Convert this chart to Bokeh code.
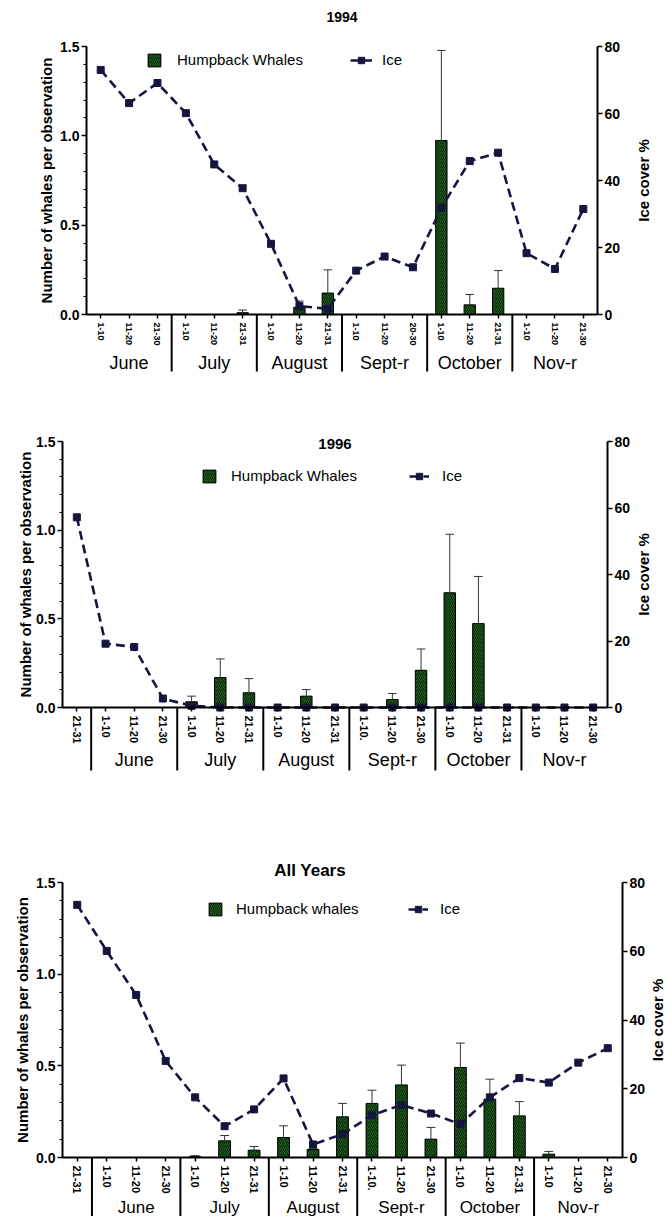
import math
from bokeh.plotting import figure
from bokeh.models import (ColumnDataSource, Range1d, LinearAxis, FixedTicker, PrintfTickFormatter,
                          Legend, LegendItem, Label, LabelSet)
from bokeh.layouts import column
from bokeh.embed import file_html
from bokeh.resources import INLINE
from bokeh.core.properties import value

FONT = "Liberation Sans"
GREEN = "#1f5c1f"
HATCH = "#0a280a"
NAVY = "#15153f"
W = 670

# ---------------- 1994 ----------------
periods_1994 = ["1-10", "11-20", "21-30", "1-10", "11-20", "21-31", "1-10", "11-20", "21-31",
                "1-10", "11-20", "20-30", "1-10", "11-20", "21-31", "1-10", "11-20", "21-30"]
month_of_1994 = ["June"] * 3 + ["July"] * 3 + ["August"] * 3 + ["Sept-r"] * 3 + ["October"] * 3 + ["Nov-r"] * 3
whales_1994 = [0, 0, 0, 0, 0, 0.01, 0, 0.04, 0.12, 0, 0, 0, 0.974, 0.054, 0.147, 0, 0, 0]
whales_upper_1994 = [0, 0, 0, 0, 0, 0.025, 0, 0.075, 0.25, 0, 0, 0, 1.478, 0.112, 0.246, 0, 0, 0]
ice_1994 = [73.0, 63.1, 69.1, 60.1, 44.8, 37.7, 21.1, 2.5, 1.7, 13.1, 17.3, 14.1,
            31.8, 45.8, 48.3, 18.3, 13.6, 31.5]

# ---------------- 1996 ----------------
periods_1996 = ["21-31", "1-10", "11-20", "21-30", "1-10", "11-20", "21-31", "1-10", "11-20", "21-31",
                "1-10.", "11-20", "21-30", "1-10", "11-20", "21-31", "1-10", "11-20", "21-30"]
month_of_1996 = [""] + ["June"] * 3 + ["July"] * 3 + ["August"] * 3 + ["Sept-r"] * 3 + ["October"] * 3 + ["Nov-r"] * 3
whales_1996 = [0, 0, 0, 0, 0.032, 0.169, 0.083, 0, 0.064, 0, 0, 0.045, 0.21, 0.647, 0.473, 0, 0, 0, 0]
whales_upper_1996 = [0, 0, 0, 0, 0.064, 0.274, 0.163, 0, 0.101, 0, 0, 0.079, 0.33, 0.977, 0.739, 0, 0, 0, 0]
ice_1996 = [57.2, 19.2, 18.2, 2.7, 0.5, 0, 0, 0, 0, 0, 0, 0, 0, 0, 0, 0, 0, 0, 0]

# ---------------- All years ----------------
periods_all = list(periods_1996)
month_of_all = list(month_of_1996)
whales_all = [0, 0, 0, 0, 0.005, 0.091, 0.04, 0.109, 0.044, 0.222, 0.295, 0.396, 0.1,
              0.491, 0.318, 0.227, 0.018, 0, 0]
whales_upper_all = [0, 0, 0, 0, 0.01, 0.12, 0.06, 0.173, 0.05, 0.295, 0.367, 0.504, 0.164,
                    0.624, 0.427, 0.305, 0.033, 0, 0]
ice_all = [73.5, 60.1, 47.3, 28.1, 17.5, 9.1, 14.0, 23.0, 3.8, 6.8, 12.3, 15.3, 12.8,
           9.7, 17.5, 23.1, 21.8, 27.6, 31.8]

WH_MAX = 1.5
ICE_MAX = 80


def style_axis(ax, fs, standoff=2):
    ax.major_label_text_font = FONT
    ax.major_label_text_font_style = "bold"
    ax.major_label_text_font_size = fs
    ax.major_label_text_color = "black"
    ax.major_label_standoff = standoff
    ax.axis_line_width = 2
    ax.axis_line_color = "black"
    ax.major_tick_out = 5
    ax.major_tick_in = 0
    ax.major_tick_line_width = 1.5
    ax.minor_tick_line_color = None


def build(title, periods, month_of, whales, upper, ice, whale_label, g):
    n = len(periods)
    H = g["h"]
    oy = g["oy"]          # page y of canvas top
    ox = 0                # page x of canvas left
    L, R = g["L"] - ox, g["R"] - ox          # axis positions in canvas px
    T, B = g["T"] - oy, g["B"] - oy
    ux = (R - L) / n
    uy = (B - T) / WH_MAX
    ui = (B - T) / ICE_MAX

    p = figure(width=W, height=H,
               x_range=Range1d(-0.5 - L / ux, n - 0.5 + (W - R) / ux),
               y_range=Range1d(-(H - B) / uy, WH_MAX + T / uy),
               output_backend="svg", toolbar_location=None,
               x_axis_location=None, y_axis_location=None,
               min_border_left=0, min_border_right=0, min_border_top=0, min_border_bottom=0)
    p.outline_line_color = None
    p.background_fill_color = "white"
    p.border_fill_color = "white"
    for gr in p.xgrid + p.ygrid:
        gr.visible = False
        gr.grid_line_color = None
    p.extra_y_ranges = {"ice": Range1d(-(H - B) / ui, ICE_MAX + T / ui)}

    # x axis drawn at y = 0
    xa = LinearAxis(fixed_location=0, bounds=(-0.5, n - 0.5), ticker=FixedTicker(ticks=list(range(n))))
    style_axis(xa, g["xfs"], standoff=4)
    xa.major_tick_out = 4
    xa.major_label_overrides = {i: lab for i, lab in enumerate(periods)}
    xa.major_label_orientation = "vertical"
    p.add_layout(xa, "below")

    # left axis
    ya = LinearAxis(fixed_location=-0.5, bounds=(0, WH_MAX),
                    ticker=FixedTicker(ticks=[0, 0.5, 1.0, 1.5], minor_ticks=[k / 10 for k in range(16)]),
                    formatter=PrintfTickFormatter(format="%.1f"))
    style_axis(ya, "14px")
    ya.minor_tick_line_color = "black"
    ya.minor_tick_out = 3
    ya.minor_tick_in = 0
    ya.minor_tick_line_width = 1.2
    p.add_layout(ya, "left")

    # right axis
    ra = LinearAxis(y_range_name="ice", fixed_location=n - 0.5, bounds=(0, ICE_MAX),
                    ticker=FixedTicker(ticks=[0, 20, 40, 60, 80]))
    style_axis(ra, "14px")
    p.add_layout(ra, "right")

    # bars + error bars
    idx = [i for i, w in enumerate(whales) if w > 0]
    src = ColumnDataSource(dict(
        x=idx,
        top=[whales[i] for i in idx],
        up=[upper[i] for i in idx],
        cl=[i - 0.15 for i in idx],
        cr=[i + 0.15 for i in idx],
    ))
    bars = p.vbar(x="x", top="top", bottom=0, width=0.4, source=src,
                  fill_color=GREEN, line_color="black", line_width=1,
                  hatch_pattern="/", hatch_color=HATCH, hatch_scale=4, hatch_weight=1)
    p.segment(x0="x", y0="top", x1="x", y1="up", source=src, line_color="#333333", line_width=1)
    p.segment(x0="cl", y0="up", x1="cr", y1="up", source=src, line_color="#333333", line_width=1)

    # ice line
    isrc = ColumnDataSource(dict(x=list(range(n)), ice=ice))
    ln = p.line("x", "ice", source=isrc, y_range_name="ice", line_color=NAVY,
                line_width=2.6, line_dash="9 5")
    pts = p.scatter("x", "ice", source=isrc, y_range_name="ice", marker="square", size=7,
                    fill_color=NAVY, line_color=NAVY)

    # legends (location relative to canvas bottom-left)
    common = dict(orientation="horizontal", padding=0, margin=0, spacing=0,
                  border_line_color=None, background_fill_alpha=0,
                  label_text_font=FONT, label_text_font_size="15px", label_text_color="black",
                  glyph_height=16, label_height=16)
    vy = H - (g["legy"] - oy + 8)
    leg1 = Legend(items=[LegendItem(label=whale_label, renderers=[bars])],
                  location=(g["leg1x"] - ox, vy), glyph_width=16, label_standoff=g["st1"], **common)
    leg2 = Legend(items=[LegendItem(label="Ice", renderers=[ln, pts])],
                  location=(g["leg2x"] - ox, vy), glyph_width=g["gw2"], label_standoff=g["st2"], **common)
    p.add_layout(leg1)
    p.add_layout(leg2)

    # title
    p.add_layout(Label(x=g["tx"], y=WH_MAX, y_offset=g["ty"], text=title, text_align="center",
                       text_baseline="middle", text_font=FONT, text_font_style="bold",
                       text_font_size=g["tfs"], text_color="black"))

    # axis titles
    p.add_layout(Label(x=-0.5, y=WH_MAX / 2, x_offset=g["llx"], text="Number of whales per observation",
                       angle=math.pi / 2, text_align="center", text_baseline="middle", text_font=FONT,
                       text_font_style="bold", text_font_size="15px", text_color="black"))
    p.add_layout(Label(x=n - 0.5, y=WH_MAX / 2, x_offset=g["rlx"], text="Ice cover %", angle=math.pi / 2,
                       text_align="center", text_baseline="middle", text_font=FONT,
                       text_font_style="bold", text_font_size="15px", text_color="black"))

    # month group labels and separators
    names, centers, seps = [], [], []
    start = 0
    for i in range(1, n + 1):
        if i == n or month_of[i] != month_of[start]:
            if month_of[start]:
                names.append(month_of[start])
                centers.append((start + i - 1) / 2)
            if i < n:
                seps.append(i - 0.5)
            start = i
    msrc = ColumnDataSource(dict(x=centers, y=[0] * len(centers), text=names))
    p.add_layout(LabelSet(x="x", y="y", text="text", source=msrc, y_offset=g["my"],
                          text_align="center", text_baseline="middle",
                          text_font=value(FONT), text_font_size=value(g["mfs"]),
                          text_color="black"))
    sep_len = g["sl"] / uy
    ssrc = ColumnDataSource(dict(x=seps, y0=[0] * len(seps), y1=[-sep_len] * len(seps)))
    p.segment(x0="x", y0="y0", x1="x", y1="y1", source=ssrc, line_color="black", line_width=2)
    return p


# page-pixel geometry of each panel (canvas top oy; plot-area edges L, R, T, B)
g1 = dict(h=400, oy=0, L=86, R=597, T=46, B=314, xfs="9px",
          legy=60, leg1x=146, st1=15, leg2x=350, gw2=22, st2=10,
          tx=8.5, ty=30, tfs="14px", llx=-40, rlx=46, my=-48, sl=57, mfs="18px")
g2 = dict(h=440, oy=400, L=62, R=607, T=441, B=707, xfs="11px",
          legy=476, leg1x=201, st1=14, leg2x=409, gw2=20, st2=13,
          tx=9, ty=-2, tfs="15px", llx=-37, rlx=36, my=-52, sl=63, mfs="18px")
g3 = dict(h=376, oy=840, L=62, R=622, T=882, B=1157, xfs="11px",
          legy=909, leg1x=207, st1=13, leg2x=408, gw2=20, st2=12,
          tx=7.9, ty=12, tfs="17px", llx=-40, rlx=35, my=-50, sl=59, mfs="17px")

p1 = build("1994", periods_1994, month_of_1994, whales_1994, whales_upper_1994, ice_1994, "Humpback Whales", g1)
p2 = build("1996", periods_1996, month_of_1996, whales_1996, whales_upper_1996, ice_1996, "Humpback Whales", g2)
p3 = build("All Years", periods_all, month_of_all, whales_all, whales_upper_all, ice_all, "Humpback whales", g3)

layout = column(p1, p2, p3, spacing=0)
open("out.html", "w").write(file_html(layout, INLINE))
